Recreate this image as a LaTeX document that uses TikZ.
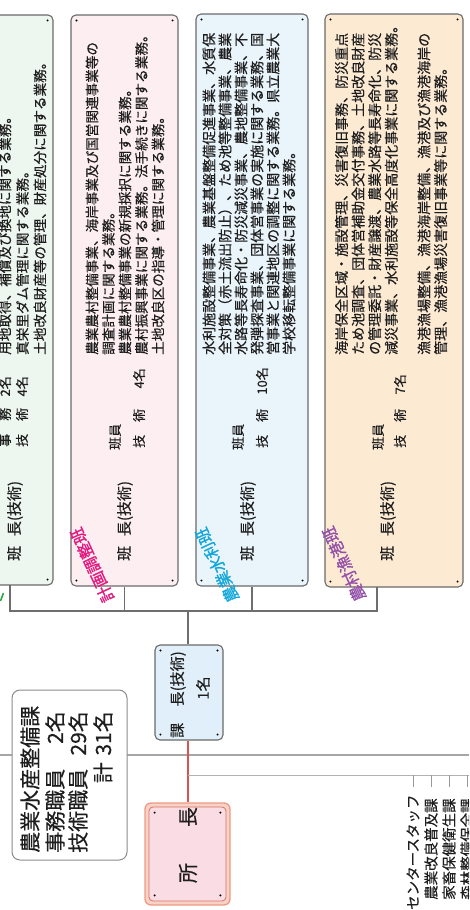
\documentclass[tikz,border=0pt]{standalone}
\usepackage{fontspec}
\setmainfont{Noto Sans CJK JP}[FakeBold=0.35]
\newfontfamily\jpheavy{Noto Sans CJK JP}[FakeBold=1.2]
\usetikzlibrary{calc}
\definecolor{bordergray}{HTML}{6A6A6A}
\definecolor{conncol}{HTML}{6E6E6E}
\definecolor{txt}{HTML}{1E1E1E}
\definecolor{greenfill}{HTML}{EDF6EF}
\definecolor{pinkfill}{HTML}{FDEEF2}
\definecolor{bluefill}{HTML}{E9F4FB}
\definecolor{orangefill}{HTML}{FDEAD3}
\definecolor{kachofill}{HTML}{E0EFF9}
\definecolor{shofill}{HTML}{FADCE4}
\definecolor{shoouter}{HTML}{EE9A83}
\definecolor{shoinner}{HTML}{D9735F}
\definecolor{redline}{HTML}{D9534F}
\definecolor{lab1}{HTML}{E4197F}
\definecolor{lab2}{HTML}{13A6D9}
\definecolor{lab3}{HTML}{9350A8}
\definecolor{lab0}{HTML}{2DA84A}
\tikzset{
  box/.style={draw=bordergray, line width=1.1pt, rounded corners=5pt, inner sep=0pt},
  vt/.style={rotate=90, inner sep=0pt, text=txt},
  body/.style={vt, anchor=west, font=\fontsize{13.6}{16}\selectfont},
  staff/.style={vt, font=\fontsize{13}{15}\selectfont},
  head/.style={vt, anchor=west, font=\fontsize{15}{17}\selectfont},
  lab/.style={rotate=115, inner sep=0pt, font=\jpheavy\fontsize{16}{18}\selectfont},
  conn/.style={draw=conncol, line width=1.2pt},
  info/.style={vt, font=\fontsize{21}{24}\selectfont},
  listtxt/.style={vt, anchor=west, font=\fontsize{14.5}{16}\selectfont},
}
\newcommand\cornerdots[1]{%
  \foreach \a/\dx/\dy in {north west/6/-6,north east/-6/-6,south west/6/6,south east/-6/6}{%
    \fill[black] ($(#1.\a)+(\dx,\dy)$) circle (1.1pt);}}
\begin{document}
\begin{tikzpicture}[x=1pt,y=1pt]
\useasboundingbox (0,0) rectangle (469,-910);
\clip (0,0) rectangle (469,-910);

% background long line
\draw[draw=black!35, line width=1.5pt] (0,-755) coordinate (ll) -- (469,-755) coordinate (lr);

% group boxes
\node[box, fill=greenfill, minimum width=113pt, minimum height=570pt] (g) at (-3.5,-300) {};
\node[box, fill=pinkfill, minimum width=107pt, minimum height=571pt] (p) at (124.5,-300.5) {};
\node[box, fill=bluefill, minimum width=112pt, minimum height=572pt] (b) at (252,-300) {};
\node[box, fill=orangefill, minimum width=138pt, minimum height=573pt] (o) at (394,-300.5) {};
\cornerdots{g}\cornerdots{p}\cornerdots{b}\cornerdots{o}

% body texts
\foreach \t [count=\i] in {用地取得、補償及び換地に関する業務。,
  真栄里ダム管理に関する業務。,
  土地改良財産等の管理、財産処分に関する業務。}
  \node[body] (gt\i) at ({5+(\i-1)*17.5},-355) {\t};
\foreach \t [count=\i] in {農業農村整備事業、海岸事業及び国営関連事業等の,
  調査計画に関する業務。,
  農業農村整備事業の新規採択に関する業務。,
  農村振興事業に関する業務。法手続きに関する業務。,
  土地改良区の指導・管理に関する業務。}
  \node[body] (pt\i) at ({92+(\i-1)*16.5},-355) {\t};
\foreach \t [count=\i] in {水利施設整備事業、農業基盤整備促進事業、水質保,
  全対策（赤土流出防止）、ため池等整備事業、農業,
  水路等長寿命化・防災減災事業、農地整備事業、不,
  発弾探査事業、団体営事業の実施に関する業務、国,
  営事業と関連地区の調整に関する業務。県立農業大,
  学校移転整備事業に関する業務。}
  \node[body, font=\fontsize{14}{16}\selectfont] (bt\i) at ({209+(\i-1)*16},-355) {\t};
\foreach \t [count=\i] in {海岸保全区域・施設管理、災害復旧事務、防災重点,
  ため池調査、団体営補助金交付事務、土地改良財産,
  の管理委託・財産譲渡、農業水路等長寿命化、防災,
  減災事業、水利施設等保全高度化事業に関する業務。}
  \node[body, font=\fontsize{14}{16}\selectfont] (ot\i) at ({341.5+(\i-1)*16.6},-355) {\t};
\foreach \t [count=\i] in {漁港漁場整備、漁港海岸整備、漁港及び漁港海岸の,
  管理、漁港漁場災害復旧事業等に関する業務。}
  \node[body, font=\fontsize{14}{16}\selectfont] (ou\i) at ({424+(\i-1)*16.6},-355) {\t};

% staff
\node[staff, anchor=west] (gs1) at (5,-447) {事\hspace{1em}務};
\node[staff, anchor=east] (gs1n) at (5,-376) {2名};
\node[staff, anchor=west] (gs2) at (22,-447) {技\hspace{1em}術};
\node[staff, anchor=east] (gs2n) at (22,-376) {4名};
\node[staff, anchor=west] (ps1) at (115,-450) {班員};
\node[staff, anchor=west] (ps2) at (139,-448) {技\hspace{1em}術};
\node[staff, anchor=east] (ps2n) at (139,-368) {4名};
\node[staff, anchor=west] (bs1) at (238,-450) {班員};
\node[staff, anchor=west] (bs2) at (262,-448) {技\hspace{1em}術};
\node[staff, anchor=east] (bs2n) at (262,-367) {10名};
\node[staff, anchor=west] (os1) at (378,-450) {班員};
\node[staff, anchor=west] (os2) at (400,-448) {技\hspace{1em}術};
\node[staff, anchor=east] (os2n) at (400,-374) {7名};

% group heads
\node[head] (gh) at (15,-561) {班\hspace{.65em}長(技術)};
\node[head] (ph) at (125,-561) {班\hspace{.65em}長(技術)};
\node[head] (bh) at (248,-561) {班\hspace{.65em}長(技術)};
\node[head] (oh) at (388,-561) {班\hspace{.65em}長(技術)};

% coloured labels
\node[lab, text=lab1] (l1) at (92,-565) {計画調整班};
\node[lab, text=lab2] (l2) at (217,-565) {農業水利班};
\node[lab, text=lab3] (l3) at (344,-564) {農村漁港班};
\draw[lab0, line width=1.6pt] (0.5,-601) -- (3.5,-593);

% section chief
\node[box, fill=kachofill, minimum width=68pt, minimum height=95pt] (k) at (189,-692.5) {};
\cornerdots{k}
\node[head, anchor=west] (kt) at (178,-738) {課\hspace{1.1em}長(技術)};
\node[vt, font=\fontsize{15}{17}\selectfont] (kn) at (203,-688) {1名};

% tree connectors
\coordinate (gst) at (10,-585);
\coordinate (ost) at (377,-587);
\coordinate (bus) at (188,-611);
\draw[conn] (gst) |- (ost |- bus) -- (ost);
\draw[conn] (p.south) -- (p.south |- bus);
\draw[conn] (b.south) -- (b.south |- bus);
\draw[conn] (k.north -| bus) -- (bus);

% info box
\node[box, draw=black!45, line width=1pt, rounded corners=8pt, fill=white, minimum width=115pt, minimum height=170pt] (info) at (69.5,-775) {};
\node[info, anchor=west] (i1) at (30,-853) {農業水産整備課};
\node[info, anchor=west] (i2) at (55,-853) {事務職員};
\node[info, anchor=east] (i2n) at (55,-711) {2名};
\node[info, anchor=west] (i3) at (78,-853) {技術職員};
\node[info, anchor=east] (i3n) at (78,-711) {29名};
\node[info, anchor=east] (i4) at (103,-762) {計};
\node[info, anchor=east] (i4n) at (103,-711) {31名};

% director
\node[box, draw=shoouter, line width=1.3pt, rounded corners=6pt, fill=shoouter!45, minimum width=85pt, minimum height=102pt] (s) at (187.5,-854) {};
\node[box, draw=shoinner, line width=0.8pt, rounded corners=4pt, fill=shofill, minimum width=77pt, minimum height=94pt] (si) at (187.5,-854) {};
\cornerdots{si}
\node[vt, font=\fontsize{20}{22}\selectfont] (st) at (188,-845) {所\hspace{1.8em}長};
\draw[draw=redline, line width=1.5pt] (k.south -| 188,0) coordinate (ks) -- (s.north -| ks);

% staff list
\coordinate (br) at (188,-775);
\draw[draw=black!30, line width=0.9pt] (br) -- (469,-775) coordinate (brr);
\foreach \x/\t [count=\i] in {413/センタースタッフ,431/農業改良普及課,449/家畜保健衛生課,467/森林整備保全課}{
  \draw[draw=black!40, line width=0.8pt] (\x,-775) -- (\x,-787);
  \node[listtxt] (lt\i) at (\x,{\i==1 ? -910 : -900}) {\t};
}
\end{tikzpicture}
\end{document}
